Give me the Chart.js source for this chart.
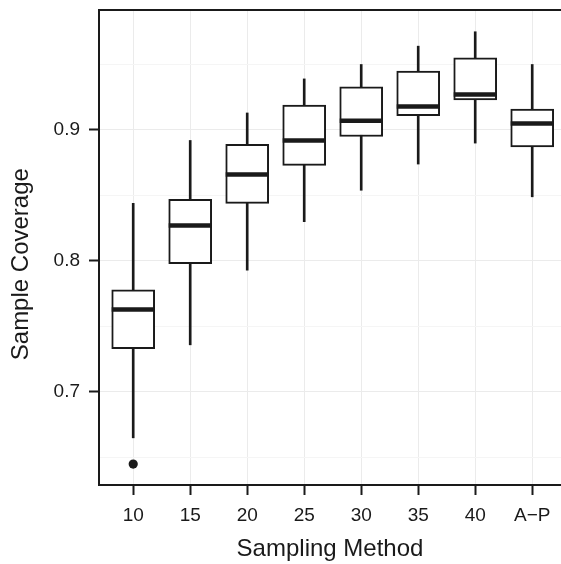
<!DOCTYPE html>
<html>
<head>
<meta charset="UTF-8">
<title>Sample Coverage by Sampling Method</title>
<script src="https://cdn.jsdelivr.net/npm/chart.js"></script>
<style>
    body { margin: 0; background: #fff; }
    #wrap { width: 561px; height: 564px; }
</style>
</head>
<body>
<div id="wrap"><canvas id="chart"></canvas></div>
<script>
// categories on the x axis
const categories = ['10', '15', '20', '25', '30', '35', '40', 'A\u2212P'];
const xPositions = [1, 2, 3, 4, 5, 6, 7, 8];

// box statistics
const whiskerLow  = [0.665, 0.736, 0.793, 0.830, 0.854, 0.874, 0.890, 0.849];
const lowerQuart  = [0.733, 0.798, 0.844, 0.873, 0.895, 0.911, 0.923, 0.887];
const medians     = [0.763, 0.827, 0.866, 0.892, 0.907, 0.918, 0.927, 0.905];
const upperQuart  = [0.778, 0.847, 0.889, 0.919, 0.933, 0.945, 0.955, 0.916];
const whiskerHigh = [0.844, 0.892, 0.913, 0.939, 0.950, 0.964, 0.975, 0.950];

// outliers: category index and value
const outlierCat = [0];
const outlierVal = [0.645];

// y axis ticks
const yMajor = [0.7, 0.8, 0.9];
const yTickLabels = ['0.7', '0.8', '0.9'];
const yMinor = [0.65, 0.75, 0.85, 0.95];

const ink = '#1a1a1a';
const font = 'Liberation Sans, Arial, Helvetica, sans-serif';

function majorIndex(v) {
    return yMajor.findIndex(m => Math.abs(m - v) < 1e-6);
}

const ctx = document.getElementById('chart').getContext('2d');
new Chart(ctx, {
    type: 'bar',
    data: {
        datasets: [
            {
                type: 'bar',
                label: 'whiskers',
                data: xPositions.map((x, i) => ({x: x, y: [whiskerLow[i], whiskerHigh[i]]})),
                backgroundColor: ink,
                borderWidth: 0,
                barThickness: 2,
                grouped: false,
                order: 3
            },
            {
                type: 'bar',
                label: 'boxes',
                data: xPositions.map((x, i) => ({x: x, y: [lowerQuart[i], upperQuart[i]]})),
                backgroundColor: '#ffffff',
                borderColor: ink,
                borderWidth: 2,
                borderSkipped: false,
                barThickness: 43,
                grouped: false,
                order: 2
            },
            {
                type: 'scatter',
                label: 'medians',
                data: xPositions.map((x, i) => ({x: x, y: medians[i]})),
                pointStyle: 'line',
                radius: 21.5,
                borderWidth: 4.5,
                borderColor: ink,
                order: 1
            },
            {
                type: 'scatter',
                label: 'outliers',
                data: outlierCat.map((c, i) => ({x: xPositions[c], y: outlierVal[i]})),
                pointStyle: 'circle',
                radius: 4.6,
                backgroundColor: ink,
                borderWidth: 0,
                order: 1
            }
        ]
    },
    options: {
        responsive: true,
        maintainAspectRatio: false,
        animation: false,
        layout: { padding: 0, autoPadding: false },
        plugins: {
            legend: { display: false },
            tooltip: { enabled: false }
        },
        scales: {
            x: {
                type: 'linear',
                position: 'bottom',
                offset: false,
                min: 0.4,
                max: 8.505,
                afterBuildTicks: s => { s.ticks = xPositions.map(v => ({value: v})); },
                afterFit: s => { s.height = 79; s.paddingLeft = 0; s.paddingRight = 0; },
                ticks: {
                    autoSkip: false,
                    maxRotation: 0,
                    padding: 9,
                    color: ink,
                    font: { family: font, size: 19 },
                    callback: v => categories[xPositions.indexOf(v)]
                },
                grid: {
                    offset: false,
                    color: '#ebebeb',
                    lineWidth: 1,
                    tickColor: ink,
                    tickWidth: 2,
                    tickLength: 10
                },
                border: { color: ink, width: 2 },
                title: {
                    display: true,
                    text: 'Sampling Method',
                    color: ink,
                    font: { family: font, size: 24 },
                    padding: { top: 0, bottom: 0 }
                }
            },
            x2: {
                type: 'linear',
                position: 'top',
                offset: false,
                min: 0.4,
                max: 8.505,
                afterFit: s => { s.height = 10; s.paddingLeft = 0; s.paddingRight = 0; },
                ticks: { display: false },
                grid: { display: false, drawOnChartArea: false },
                border: { color: ink, width: 2 }
            },
            y: {
                type: 'linear',
                min: 0.629,
                max: 0.9916,
                afterBuildTicks: s => {
                    s.ticks = yMajor.concat(yMinor).sort((a, b) => a - b).map(v => ({value: v}));
                },
                afterFit: s => { s.width = 99; s.paddingTop = 0; s.paddingBottom = 0; },
                ticks: {
                    autoSkip: false,
                    padding: 9,
                    color: ink,
                    font: { family: font, size: 19 },
                    callback: v => {
                        const k = majorIndex(v);
                        return k >= 0 ? yTickLabels[k] : '';
                    }
                },
                grid: {
                    color: c => majorIndex(c.tick.value) >= 0 ? '#ebebeb' : '#f5f5f5',
                    lineWidth: 1,
                    tickColor: c => majorIndex(c.tick.value) >= 0 ? ink : 'rgba(0,0,0,0)',
                    tickWidth: 2,
                    tickLength: 10
                },
                border: { color: ink, width: 2 },
                title: {
                    display: true,
                    // trailing spaces nudge the title down, as in the original
                    text: 'Sample Coverage\u00a0\u00a0\u00a0\u00a0\u00a0',
                    color: ink,
                    font: { family: font, size: 24 },
                    padding: { top: 7, bottom: 0 }
                }
            }
        }
    }
});
</script>
</body>
</html>
